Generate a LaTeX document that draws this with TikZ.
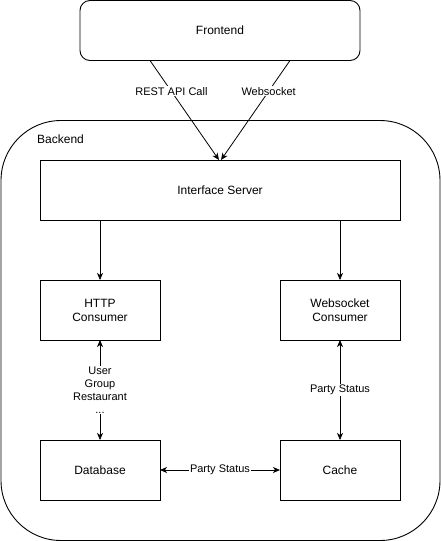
\documentclass[tikz,border=0pt]{standalone}
\usepackage{fontspec}
\setmainfont{Liberation Sans}
\usetikzlibrary{positioning}
\usetikzlibrary{arrows.meta}
\tikzset{
    block/.style = {rectangle, draw=black, line width=0.9pt, inner sep=0pt, outer sep=0pt, minimum width=120pt, minimum height=60pt, align=center, font=\fontsize{12}{14}\selectfont},
    frontbox/.style = {block, rounded corners=10pt, minimum width=280pt},
    wide/.style = {block, minimum width=360pt},
    group/.style = {rectangle, draw=black, line width=0.9pt, rounded corners=60pt, inner sep=0pt, minimum width=439pt, minimum height=420pt},
    grouplabel/.style = {anchor=west, inner sep=0pt, font=\fontsize{12}{14}\selectfont},
    lbl/.style = {fill=white, inner sep=1pt, align=center, font=\fontsize{11}{13}\selectfont},
    edgen/.style = {-{Stealth[length=7pt,width=6pt,inset=2pt]}, line width=0.8pt},
    edgeb/.style = {{Stealth[length=7pt,width=6pt,inset=2pt]}-{Stealth[length=7pt,width=6pt,inset=2pt]}, line width=0.8pt}
}

\begin{document}
\begin{tikzpicture}[x=1pt,y=-1pt]
\useasboundingbox (0,0) rectangle (441,541);
\node[group] at (220.5,330.5) (backend) {};
\node[grouplabel] at (37,139) (backendlbl) {Backend};

\node[frontbox] at (220,30.5) (frontend) {Frontend};
\node[wide] at (220,190) (iface) {Interface Server};
\node[block] at (100,310) (http) {HTTP\\Consumer};
\node[block] at (340,310) (wscons) {Websocket\\Consumer};
\node[block] at (100,470) (db) {Database};
\node[block] at (340,470) (cache) {Cache};

% frontend to interface server
\draw[edgen] ([xshift=-70pt]frontend.south) -- node[lbl,pos=0.31] {REST API Call} ([xshift=-1pt]iface.north);
\draw[edgen] ([xshift=70pt]frontend.south) -- node[lbl,pos=0.31] {Websocket} ([xshift=1pt]iface.north);

% interface server to consumers
\draw[edgen] ([xshift=-120pt]iface.south) -- (http.north);
\draw[edgen] ([xshift=120pt]iface.south) -- (wscons.north);

% data access
\draw[edgeb] (http.south) -- node[lbl] {User\\Group\\Restaurant\\...} (db.north);
\draw[edgeb] (wscons.south) -- node[lbl] {Party Status} (cache.north);
\draw[edgeb] (db.east) -- node[lbl] {Party Status} (cache.west);
\end{tikzpicture}
\end{document}
